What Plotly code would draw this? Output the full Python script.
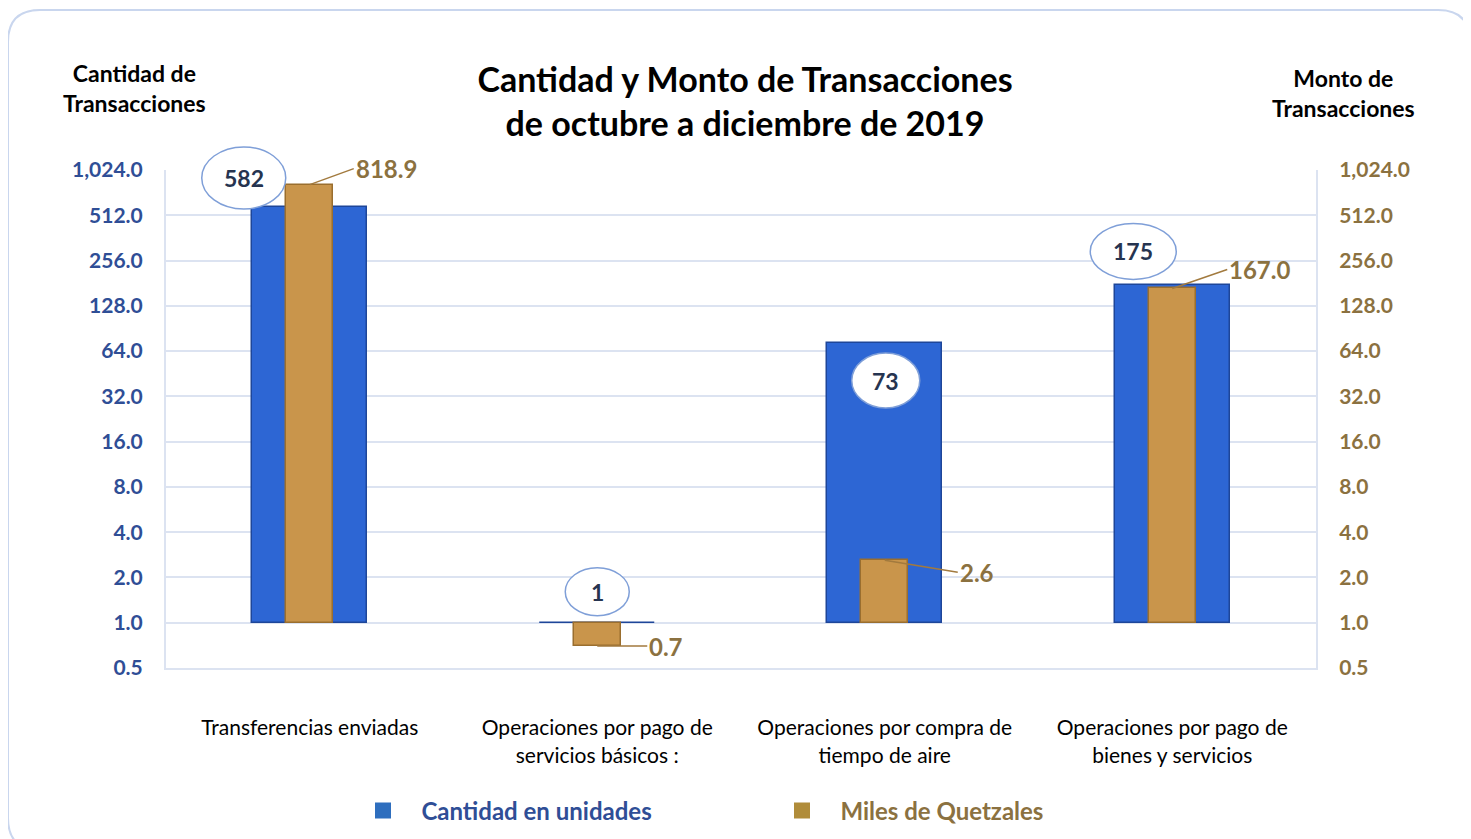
import plotly.graph_objects as go
import math

# ---------------- data ----------------
categories = ["Transferencias enviadas",
              "Operaciones por pago de<br>servicios básicos :",
              "Operaciones por compra de<br>tiempo de aire",
              "Operaciones por pago de<br>bienes y servicios"]
cantidad = [582, 1, 73, 175]          # Cantidad en unidades
monto = [818.9, 0.7, 2.6, 167.0]      # Miles de Quetzales
tick_vals = [0.5, 1, 2, 4, 8, 16, 32, 64, 128, 256, 512, 1024]
tick_text = ["0.5", "1.0", "2.0", "4.0", "8.0", "16.0", "32.0", "64.0",
             "128.0", "256.0", "512.0", "1,024.0"]
series_names = ["Cantidad en unidades", "Miles de Quetzales"]
base_value = 1.0

# ---------------- style ----------------
OFF = 8                      # page body margin
W, H = 1471 - OFF, 839 - OFF
ML, MT = 166 - OFF, 170 - OFF
PW, PH = 1150, 498
MR, MB = W - ML - PW, H - MT - PH
BLUE = "#2D66D4"
BLUE_EDGE = "#1E4699"
GOLD = "#C9954B"
GOLD_EDGE = "#9A6E2E"
BLUE_TXT = "#2F4E96"
GOLD_TXT = "#8B7140"
GRID = "#DCE3F1"
FONT = "Lato"

def px(xr):   # reference pixel x -> paper
    return (xr - OFF - ML) / PW

def py(yr):   # reference pixel y -> paper
    return (MT + PH - (yr - OFF)) / PH

xpos = list(range(len(categories)))
xr_ = [-0.5, len(categories) - 0.5]
yr = [math.log10(tick_vals[0]), math.log10(tick_vals[-1])]

def x_frac(x):          # position on the category axis as paper fraction
    return (x - xr_[0]) / (xr_[1] - xr_[0])

def y_frac(v):          # value on the log axis as paper fraction
    return (math.log10(v) - yr[0]) / (yr[1] - yr[0])

fig = go.Figure()
fig.add_trace(go.Bar(
    x=xpos, y=[v - base_value for v in cantidad], base=base_value,
    width=0.4, marker=dict(color=BLUE, line=dict(color=BLUE_EDGE, width=1.5)),
    showlegend=False, yaxis="y", hoverinfo="skip"))
fig.add_trace(go.Bar(
    x=xpos, y=[v - base_value for v in monto], base=base_value,
    width=0.165, marker=dict(color=GOLD, line=dict(color=GOLD_EDGE, width=1.5)),
    showlegend=False, yaxis="y2", hoverinfo="skip"))
# legend entries
for nm, col, tcol in [(series_names[0], "#2E6EBE", BLUE_TXT),
                      (series_names[1], "#B08C3A", GOLD_TXT)]:
    fig.add_trace(go.Scatter(
        x=[None], y=[None], mode="markers",
        marker=dict(symbol="square", size=18, color=col),
        name=f"&nbsp;&nbsp;&nbsp;<b><span style='color:{tcol}'>{nm}</span></b>"))

# ellipse label offsets (pixel) and sizes
ell_dx = [-66, 0, 1, -39]
ell_dy = [-29, -31, 38, -34]
ell_w = [84, 64, 68, 86]
ell_h = [62, 48, 55, 56]
shapes = []
annotations = []
for i, v in enumerate(cantidad):
    shapes.append(dict(type="circle", xref="paper", yref="paper",
                       xsizemode="pixel", ysizemode="pixel",
                       xanchor=x_frac(xpos[i]), yanchor=y_frac(v),
                       x0=ell_dx[i] - ell_w[i] / 2, x1=ell_dx[i] + ell_w[i] / 2,
                       y0=-ell_dy[i] - ell_h[i] / 2, y1=-ell_dy[i] + ell_h[i] / 2,
                       fillcolor="white", line=dict(color="#7F9FD8", width=1.5),
                       layer="above"))
    annotations.append(dict(x=xpos[i], y=math.log10(v), xref="x", yref="y",
                            text=f"<b>{v:,}</b>", showarrow=False,
                            xshift=ell_dx[i], yshift=-ell_dy[i],
                            font=dict(family=FONT, size=23, color="#263450")))

lab_ax = [44, 50, 73, 55]
lab_ay = [-16, 0, 12, -19]
for i, v in enumerate(monto):
    annotations.append(dict(x=xpos[i], y=math.log10(v), xref="x", yref="y2",
                            text=f"<b>{v:.1f}</b>", showarrow=True,
                            arrowhead=0, arrowwidth=1.5, arrowcolor="#A27A3E",
                            ax=lab_ax[i], ay=lab_ay[i], xanchor="left",
                            standoff=0, startstandoff=0,
                            font=dict(family=FONT, size=24, color=GOLD_TXT)))

annotations.append(dict(xref="paper", yref="paper", x=px(134), y=py(88),
                        xanchor="center", yanchor="middle",
                        text="<b>Cantidad de<br>Transacciones</b>", showarrow=False,
                        font=dict(family=FONT, size=23, color="black")))
annotations.append(dict(xref="paper", yref="paper", x=px(1343), y=py(93),
                        xanchor="center", yanchor="middle",
                        text="<b>Monto de<br>Transacciones</b>", showarrow=False,
                        font=dict(family=FONT, size=23, color="black")))

# rounded border
x0, x1, y0, y1 = px(8), px(1470), py(850), py(10)
rx, ry = 32 / PW, 32 / PH
path = (f"M {x0+rx},{y1} L {x1-rx},{y1} Q {x1},{y1} {x1},{y1-ry} "
        f"L {x1},{y0+ry} Q {x1},{y0} {x1-rx},{y0} L {x0+rx},{y0} "
        f"Q {x0},{y0} {x0},{y0+ry} L {x0},{y1-ry} Q {x0},{y1} {x0+rx},{y1} Z")
shapes.append(dict(type="path", xref="paper", yref="paper", path=path,
                   line=dict(color="#C9D6EE", width=2), layer="below"))

fig.update_layout(
    width=W, height=H, margin=dict(l=ML, r=MR, t=MT, b=MB, autoexpand=False),
    paper_bgcolor="white", plot_bgcolor="white",
    barmode="overlay", bargap=0,
    title=dict(text="<b>Cantidad y Monto de Transacciones<br>de octubre a diciembre de 2019</b>",
               x=(745 - OFF) / W, y=1 - (92 - OFF) / H, xanchor="center", yanchor="middle",
               font=dict(family=FONT, size=34, color="black")),
    xaxis=dict(tickvals=xpos, ticktext=categories, range=xr_, automargin=False,
               showgrid=False, showline=True, linecolor=GRID, linewidth=2,
               ticks="", ticklabelstandoff=40,
               tickfont=dict(family=FONT, size=21, color="black")),
    yaxis=dict(type="log", range=yr, tickvals=tick_vals, automargin=False,
               ticktext=[f"<b>{t}</b>" for t in tick_text],
               showgrid=True, gridcolor=GRID, gridwidth=1.5,
               showline=True, linecolor=GRID, linewidth=2, zeroline=False,
               ticks="", ticklabelstandoff=17,
               tickfont=dict(family=FONT, size=21, color=BLUE_TXT)),
    yaxis2=dict(type="log", range=yr, tickvals=tick_vals, automargin=False,
                ticktext=[f"<b>{t}</b>" for t in tick_text],
                overlaying="y", side="right", showgrid=False,
                showline=True, linecolor=GRID, linewidth=2, zeroline=False,
                ticks="", ticklabelstandoff=17,
                tickfont=dict(family=FONT, size=21, color=GOLD_TXT)),
    legend=dict(orientation="h", x=px(363), y=py(811), xanchor="left", yanchor="middle",
                entrywidth=374, entrywidthmode="pixels",
                font=dict(family=FONT, size=24),
                itemsizing="trace", itemwidth=30),
    shapes=shapes, annotations=annotations,
)

fig.write_html("out.html")
